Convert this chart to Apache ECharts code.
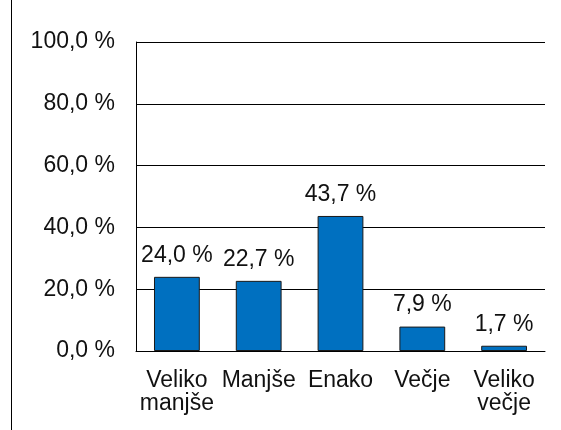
<!DOCTYPE html>
<html>
<head>
<meta charset="utf-8">
<script src="https://cdn.jsdelivr.net/npm/echarts@6/dist/echarts.min.js"></script>
<style>
  html, body { margin: 0; padding: 0; background: #fff; }
  #chart { width: 561px; height: 430px; }
</style>
</head>
<body>
<div id="chart"></div>
<script>
const categories = ['Veliko\nmanjše', 'Manjše', 'Enako', 'Večje', 'Veliko\nvečje'];
const values = [24.0, 22.7, 43.7, 7.9, 1.7];

const pct = v => v.toFixed(1).replace('.', ',') + ' %';
const font = 'Liberation Sans, Arial, sans-serif';

const chart = echarts.init(document.getElementById('chart'));

const option = {
  animation: false,
  grid: { left: 136, right: 16, top: 42, bottom: 79 },
  graphic: [{
    type: 'line',
    shape: { x1: 11.5, y1: 0, x2: 11.5, y2: 430 },
    style: { stroke: '#000', lineWidth: 1 }
  }],
  xAxis: {
    type: 'category',
    data: categories,
    axisTick: { show: false },
    axisLine: { lineStyle: { color: '#000' } },
    axisLabel: {
      color: '#111', fontFamily: font, fontSize: 23, lineHeight: 23,
      margin: 18, interval: 0
    }
  },
  yAxis: {
    type: 'value',
    min: 0, max: 100, interval: 20,
    axisLine: { show: true, lineStyle: { color: '#000' } },
    axisTick: { show: false },
    splitLine: { lineStyle: { color: '#000' } },
    axisLabel: {
      color: '#111', fontFamily: font, fontSize: 23, margin: 21,
      formatter: v => pct(v)
    }
  },
  series: [{
    type: 'bar',
    data: values,
    barWidth: '56%',
    itemStyle: { color: '#0070C0', borderColor: '#1a1a1a', borderWidth: 1 },
    label: {
      show: true, position: 'top', distance: 10,
      color: '#111', fontFamily: font, fontSize: 23,
      formatter: p => pct(p.value)
    }
  }]
};

chart.setOption(option);
</script>
</body>
</html>
